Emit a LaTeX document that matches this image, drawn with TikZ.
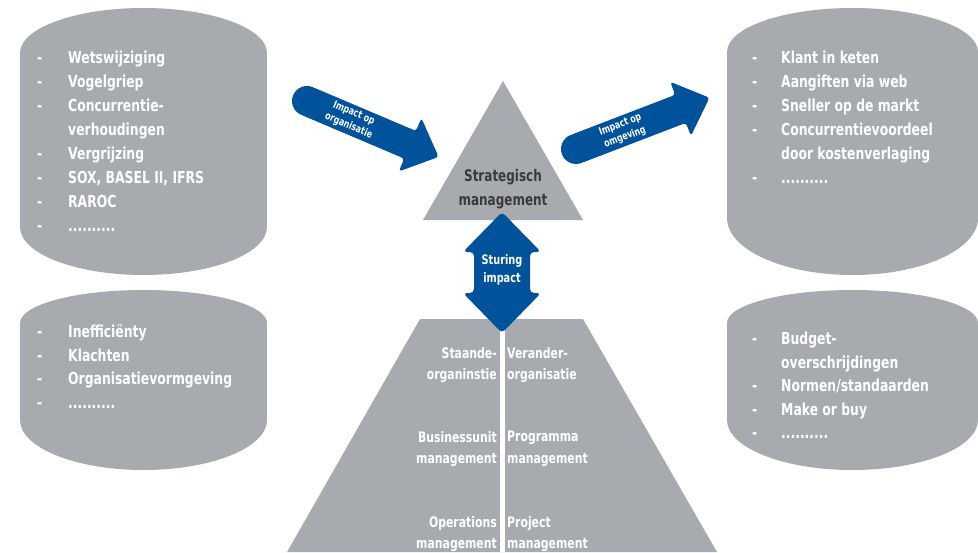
\documentclass[tikz,border=0pt]{standalone}
\usepackage{fontspec}
\setmainfont{DejaVu Sans}[FakeStretch=0.75]
\definecolor{shapegray}{RGB}{167,171,175}
\definecolor{arrowblue}{RGB}{0,82,155}
\definecolor{darktext}{RGB}{58,58,60}
\newcommand\dashitem[1]{\makebox[31pt][l]{-}#1}
\newcommand\contitem[1]{\hspace*{31pt}#1}
\newcommand\rdashitem[1]{\makebox[29pt][l]{-}#1}
\newcommand\rcontitem[1]{\hspace*{29pt}#1}
\newcommand\grayblob[6]{%
  \fill[shapegray] (#1,#3) ellipse [x radius=#2, y radius=#4];
  \fill[shapegray] (#1-#2,#3) rectangle (#1+#2,#5);
  \fill[shapegray] (#1,#5) ellipse [x radius=#2, y radius=#6];}
\tikzset{
  listtxt/.style={anchor=north west, inner sep=0pt, align=left, text=white,
    font=\fontsize{16.5}{24}\selectfont\bfseries},
  pyrtxt/.style={inner sep=0pt, text=white,
    font=\fontsize{14.5}{21.5}\selectfont\bfseries},
  arrowtxt/.style={text=white, font=\fontsize{10.5}{13.5}\selectfont\bfseries,
    align=center, inner sep=0pt, transform shape},
  blockarrow/.style={fill=arrowblue, rounded corners=3pt},
  grayshape/.style={fill=shapegray}
}
\begin{document}
\begin{tikzpicture}[x=1pt,y=-1pt]
\useasboundingbox (0,0) rectangle (978,552);

% gray list shapes
\grayblob{143.5}{123.5}{53}{45}{227}{48}
\grayblob{852.5}{125.5}{52}{44}{218}{57}
\grayblob{143.5}{123.5}{323}{33}{420}{50}
\grayblob{852.5}{125.5}{323}{33}{420}{50}

% triangle and trapezoid
\fill[grayshape] (503,81) -- (583,220) -- (423,220) -- cycle;
\fill[grayshape] (420,319) -- (583,319) -- (717,552) -- (287,552) -- cycle;
\fill[white] (499.5,319) rectangle (504.5,552);

% vertical double arrow
\fill[arrowblue, rounded corners=4pt] (502,212) -- (541,252) -- (530,252) -- (530,293)
  -- (541,293) -- (502,333) -- (463,293) -- (474,293) -- (474,252) -- (463,252) -- cycle;
\node[text=white, align=center, inner sep=0pt, font=\fontsize{13}{18.5}\selectfont\bfseries]
  (sturing) at (502,270) {Sturing\\impact};

% left slanted arrow
\begin{scope}[shift={(307,101)}, rotate=-23]
  \fill[arrowblue] (0,0) circle [radius=15];
  \fill[blockarrow] (0,-15) -- (112,-15) -- (112,-29) -- (143,0) -- (112,29) -- (112,15) -- (0,15) -- cycle;
  \node[arrowtxt] (impactorg) at (48,0) {Impact op\\organisatie};
\end{scope}

% right slanted arrow
\begin{scope}[shift={(576,149)}, rotate=21]
  \fill[arrowblue] (0,0) circle [radius=15];
  \fill[blockarrow] (0,-15) -- (112,-15) -- (112,-29) -- (143,0) -- (112,29) -- (112,15) -- (0,15) -- cycle;
  \node[arrowtxt] (impactomg) at (50,0) {Impact op\\omgeving};
\end{scope}

% triangle text
\node[anchor=north, align=center, inner sep=0pt, text=darktext,
  font=\fontsize{16}{24}\selectfont\bfseries] (strat) at (503,169) {Strategisch\\management};

% lists
\node[listtxt] (lefttop) at (37,51) {\dashitem{Wetswijziging}\\ \dashitem{Vogelgriep}\\
  \dashitem{Concurrentie-}\\ \contitem{verhoudingen}\\ \dashitem{Vergrijzing}\\
  \dashitem{SOX, BASEL II, IFRS}\\ \dashitem{RAROC}\\ \dashitem{..........}};
\node[listtxt] (righttop) at (752,51) {\rdashitem{Klant in keten}\\ \rdashitem{Aangiften via web}\\
  \rdashitem{Sneller op de markt}\\ \rdashitem{Concurrentievoordeel}\\
  \rcontitem{door kostenverlaging}\\ \rdashitem{..........}};
\node[listtxt, font=\fontsize{16.5}{23.5}\selectfont\bfseries] (leftbot) at (37,325)
  {\dashitem{Inefficiënty}\\ \dashitem{Klachten}\\
  \dashitem{Organisatievormgeving}\\ \dashitem{..........}};
\node[listtxt, font=\fontsize{16.5}{23.5}\selectfont\bfseries] (rightbot) at (752,332)
  {\rdashitem{Budget-}\\ \rcontitem{overschrijdingen}\\
  \rdashitem{Normen/standaarden}\\ \rdashitem{Make or buy}\\ \rdashitem{..........}};

% pyramid texts
\node[pyrtxt, anchor=north east, align=right] (staande) at (497,347) {Staande-\\organinstie};
\node[pyrtxt, anchor=north west, align=left] (verander) at (507,347) {Verander-\\organisatie};
\node[pyrtxt, anchor=north east, align=right] (business) at (497,431) {Businessunit\\management};
\node[pyrtxt, anchor=north west, align=left] (programma) at (507,431) {Programma\\management};
\node[pyrtxt, anchor=north east, align=right] (operations) at (497,516) {Operations\\management};
\node[pyrtxt, anchor=north west, align=left] (project) at (507,516) {Project\\management};
\end{tikzpicture}
\end{document}
